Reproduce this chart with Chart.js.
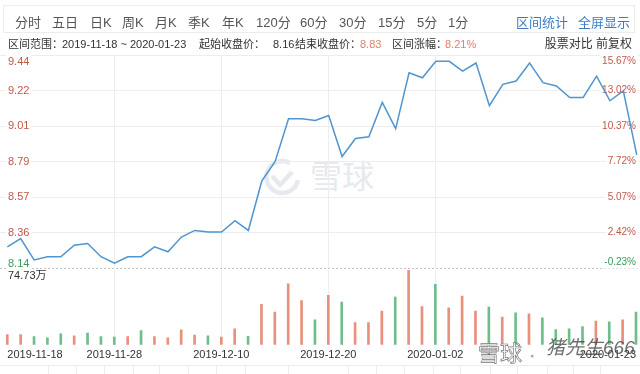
<!DOCTYPE html>
<html><head><meta charset="utf-8">
<script src="https://cdn.jsdelivr.net/npm/chart.js@4.4.1/dist/chart.umd.min.js"></script>
<style>
html,body{margin:0;padding:0;background:#fff;}
body{width:640px;height:374px;position:relative;overflow:hidden;font-family:'Liberation Sans','Noto Sans CJK SC',Arial,sans-serif;}
.a{position:absolute;white-space:nowrap;line-height:1;}
.hd{z-index:5;}
.tab{font-size:13px;color:#555;top:16px;}
.lnk{font-size:13px;color:#3b7dc0;top:16px;}
.r2{font-size:11px;color:#333;top:39px;}
.red{color:#e0806c;}
#tabbox{position:absolute;left:3px;top:5px;width:632px;height:28px;border:1px solid #ececec;box-sizing:border-box;}
#wm{position:absolute;left:260px;top:158px;z-index:0;}
canvas{position:absolute;left:0;}
#top{z-index:2;}
#vol{z-index:1;}
.sep{position:absolute;top:365px;width:1px;height:9px;background:#ececec;}
</style></head><body>
<div id="tabbox"></div>
<span class="a hd tab" style="left:15px">分时</span>
<span class="a hd tab" style="left:52px">五日</span>
<span class="a hd tab" style="left:90px">日K</span>
<span class="a hd tab" style="left:122px">周K</span>
<span class="a hd tab" style="left:155px">月K</span>
<span class="a hd tab" style="left:188px">季K</span>
<span class="a hd tab" style="left:222px">年K</span>
<span class="a hd tab" style="left:256px">120分</span>
<span class="a hd tab" style="left:300px">60分</span>
<span class="a hd tab" style="left:339px">30分</span>
<span class="a hd tab" style="left:378px">15分</span>
<span class="a hd tab" style="left:417px">5分</span>
<span class="a hd tab" style="left:448px">1分</span>
<span class="a hd lnk" style="left:516px">区间统计</span>
<span class="a hd lnk" style="left:578px">全屏显示</span>

<span class="a hd r2" style="left:8px">区间范围：</span>
<span class="a hd r2" style="left:62px">2019-11-18 ~ 2020-01-23</span>
<span class="a hd r2" style="left:199px">起始收盘价：</span>
<span class="a hd r2" style="left:273px">8.16</span>
<span class="a hd r2" style="left:295px">结束收盘价：</span>
<span class="a hd r2 red" style="left:360px">8.83</span>
<span class="a hd r2" style="left:392px">区间涨幅：</span>
<span class="a hd r2 red" style="left:445px">8.21%</span>
<span class="a hd" style="right:8px;top:38px;font-size:12px;color:#333">股票对比 前复权</span>

<div id="wm">
<svg width="46" height="38" viewBox="0 0 46 38" style="position:absolute;left:0;top:0">
<path d="M30 5 A16 16 0 1 0 38 22" fill="none" stroke="#e6e9ee" stroke-width="4.5"/>
<path d="M12 18 L20 27 L32 14" fill="none" stroke="#e6e9ee" stroke-width="4.5"/>
</svg>
<span class="a" style="left:50px;top:3px;font-size:32px;color:#e6e9ee">雪球</span>
</div>

<div style="position:absolute;left:0;top:365px;width:640px;height:1px;background:#ececec"></div>
<div class="sep" style="left:48px"></div><div class="sep" style="left:76px"></div><div class="sep" style="left:104px"></div>
<div class="sep" style="left:133px"></div><div class="sep" style="left:159px"></div><div class="sep" style="left:188px"></div>
<div class="sep" style="left:216px"></div><div class="sep" style="left:245px"></div><div class="sep" style="left:288px"></div>
<div class="sep" style="left:348px"></div><div class="sep" style="left:376px"></div><div class="sep" style="left:404px"></div>
<div class="sep" style="left:433px"></div><div class="sep" style="left:460px"></div><div class="sep" style="left:490px"></div>
<div class="sep" style="left:517px"></div><div class="sep" style="left:547px"></div><div class="sep" style="left:573px"></div>
<div class="sep" style="left:600px"></div>

<canvas id="vol" width="640" height="134" style="top:240px"></canvas>
<canvas id="top" width="640" height="260" style="top:30px"></canvas>

<span class="a hd" style="left:478px;top:343px;font-size:22px;color:rgba(255,255,255,0.85);-webkit-text-stroke:0.7px #777">雪球</span>
<span class="a hd" style="left:530px;top:348px;font-size:14px;color:rgba(255,255,255,0.85);-webkit-text-stroke:0.6px #777">·</span>
<span class="a hd" style="left:546px;top:338px;font-size:19px;color:rgba(60,60,60,0.75);font-style:italic">猪先生666</span>

<script>
// ---- data ----
const dates = ['2019-11-18','2019-11-19','2019-11-20','2019-11-21','2019-11-22','2019-11-25','2019-11-26','2019-11-27','2019-11-28','2019-11-29',
 '2019-12-02','2019-12-03','2019-12-04','2019-12-05','2019-12-06','2019-12-09','2019-12-10','2019-12-11','2019-12-12','2019-12-13',
 '2019-12-16','2019-12-17','2019-12-18','2019-12-19','2019-12-20','2019-12-23','2019-12-24','2019-12-25','2019-12-26','2019-12-27',
 '2019-12-30','2019-12-31','2020-01-02','2020-01-03','2020-01-06','2020-01-07','2020-01-08','2020-01-09','2020-01-10','2020-01-13',
 '2020-01-14','2020-01-15','2020-01-16','2020-01-17','2020-01-20','2020-01-21','2020-01-22','2020-01-23'];
const closes = [8.27,8.32,8.19,8.21,8.21,8.28,8.29,8.21,8.17,8.21,
 8.21,8.27,8.24,8.33,8.37,8.36,8.36,8.43,8.37,8.67,
 8.79,9.05,9.05,9.04,9.07,8.82,8.93,8.94,9.15,8.99,
 9.33,9.30,9.40,9.40,9.34,9.39,9.13,9.26,9.28,9.39,
 9.27,9.25,9.18,9.18,9.31,9.16,9.22,8.83];
const volumes = [10.3,10.3,8.3,7.0,11.0,9.0,11.7,8.3,7.7,8.3,
 14.3,8.3,7.0,15.0,9.7,9.0,7.7,16.0,8.5,40.5,
 32.7,61.0,44.3,25.0,49.3,42.7,22.3,22.3,33.7,47.7,
 74.73,38.3,60.3,37.0,48.7,33.7,37.7,27.7,32.0,31.0,
 27.0,15.3,16.0,18.3,23.7,23.0,25.0,32.7];
const volUp = [1,1,0,0,0,1,0,0,0,1,
 0,1,1,1,1,0,1,1,0,1,
 1,1,1,0,1,0,1,1,1,0,
 1,1,0,1,1,1,0,1,0,1,
 0,0,0,0,1,0,1,0];
const startClose = 8.16;
const priceTickLabels = ['8.14','8.36','8.57','8.79','9.01','9.22','9.44'];
const pctTickLabels = ['-0.23%','2.42%','5.07%','7.72%','10.37%','13.02%','15.67%'];
const pctMin = -0.23, pctMax = 15.67;
const volMax = 74.73;
const volMaxLabel = '74.73万';
const xTickIdx = [0,8,16,24,32,47];
const vGridIdx = [8,16,24,32];

// ---- style ----
const FAM = "'Liberation Sans','Noto Sans CJK SC',Arial,sans-serif";
const RED = '#c0584a', GREEN = '#3a9a5a';
const GRID = '#ededed';
const xMin = -0.545, xMax = 47.245;
const priceMin = startClose * (1 + pctMin / 100);
const priceMax = startClose * (1 + pctMax / 100);
const nT = priceTickLabels.length;
const priceTicks = priceTickLabels.map((_, i) => priceMin + (priceMax - priceMin) * i / (nT - 1));
const NONE = 'rgba(0,0,0,0)';

const xCfg = () => ({
  type: 'linear', min: xMin, max: xMax, offset: false,
  afterBuildTicks: s => { s.ticks = xTickIdx.map(v => ({value: v})); },
  grid: {offset: false, drawTicks: false, color: c => (c.tick && vGridIdx.includes(c.tick.value)) ? GRID : NONE},
  border: {display: false}
});
// price-type axis showing a subset of the tick values
function priceAxis(pos, idxs, labels, opts) {
  return {
    type: 'linear', position: pos, min: priceMin, max: priceMax,
    afterBuildTicks: s => { s.ticks = idxs.map(i => ({value: priceTicks[i]})); },
    afterFit: s => { s.width = 0; },
    ticks: {
      mirror: true, padding: pos === 'left' ? 8 : -4, autoSkip: false,
      labelOffset: opts.offset || 0,
      callback: v => labels[priceTicks.indexOf(v)],
      color: opts.color || RED,
      font: {family: FAM, size: pos === 'left' ? 11 : 10},
      showLabelBackdrop: true, backdropColor: '#fff',
      backdropPadding: opts.bd || 2
    },
    grid: {drawTicks: false, color: opts.grid || NONE, display: !!opts.grid},
    border: {display: false, dash: opts.dash || []}
  };
}

Chart.defaults.font.family = FAM;

const topX = xCfg(); topX.ticks = {display: false};
new Chart(document.getElementById('top'), {
  type: 'line',
  data: {datasets: [{
    data: closes.map((p, i) => ({x: i, y: p})),
    borderColor: '#4f95d0', borderWidth: 1.5, pointRadius: 0, tension: 0, fill: false, yAxisID: 'y'
  }]},
  options: {
    responsive: false, animation: false, events: [],
    layout: {padding: {top: 25, bottom: 22, left: 0, right: 0}},
    plugins: {legend: {display: false}, tooltip: {enabled: false}},
    scales: {
      x: topX,
      yrBot: priceAxis('right', [0], pctTickLabels, {color: GREEN, offset: -5.5, grid: '#c4c4c4', dash: [2, 2], bd: {top: 2, left: 2, right: 2, bottom: 0}}),
      yr: priceAxis('right', [1, 2, 3, 4, 5], pctTickLabels, {}),
      yrTop: priceAxis('right', [6], pctTickLabels, {offset: 6.5}),
      yBot: priceAxis('left', [0], priceTickLabels, {color: GREEN, offset: -4, bd: {top: 2, left: 2, right: 2, bottom: 0}}),
      y: priceAxis('left', [1, 2, 3, 4, 5], priceTickLabels, {grid: GRID}),
      yTop: priceAxis('left', [6], priceTickLabels, {offset: 6.5, grid: GRID})
    }
  }
});

const volX = xCfg();
volX.ticks = {display: true, align: 'inner', padding: 4, maxRotation: 0, minRotation: 0, autoSkip: false,
  color: '#333', font: {family: FAM, size: 11}, callback: v => dates[v]};
new Chart(document.getElementById('vol'), {
  type: 'bar',
  data: {datasets: [{
    data: volumes.map((v, i) => ({x: i, y: v})),
    backgroundColor: volUp.map(u => u ? '#e8907c' : '#6fbd8c'),
    barThickness: 2, borderWidth: 0
  }]},
  options: {
    responsive: false, animation: false, events: [],
    layout: {padding: {top: 30, bottom: 8, left: 0, right: 0}},
    plugins: {legend: {display: false}, tooltip: {enabled: false}},
    scales: {
      x: volX,
      y: {
        type: 'linear', position: 'left', min: 0, max: volMax,
        afterBuildTicks: s => { s.ticks = [{value: volMax}]; },
        afterFit: s => { s.width = 0; },
        ticks: {mirror: true, padding: 8, color: '#333', autoSkip: false, labelOffset: 5.5,
          callback: () => volMaxLabel, font: {family: FAM, size: 11}},
        grid: {display: false, drawTicks: false},
        border: {display: false}
      }
    }
  }
});
</script>
</body></html>
